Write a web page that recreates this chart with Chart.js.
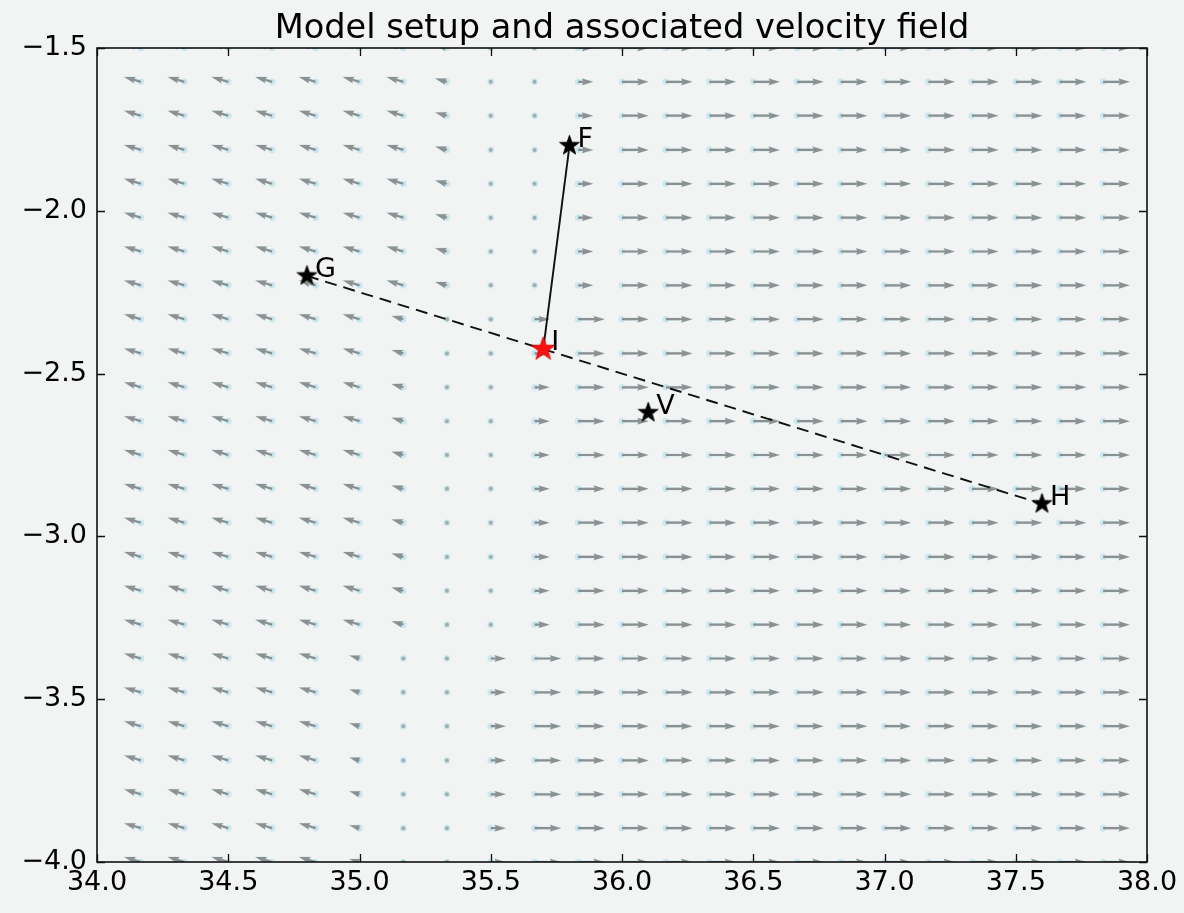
<!DOCTYPE html>
<html>
<head>
<meta charset="utf-8">
<script src="https://cdn.jsdelivr.net/npm/chart.js@4"></script>
<style>
html,body{margin:0;padding:0;background:#f1f4f2;}
#wrap{width:1184px;height:913px;}
</style>
</head>
<body>
<div id="wrap"><canvas id="c" width="1184" height="913"></canvas></div>
<script>
// ---------- data ----------
const lonGrid = [34.167,34.333,34.5,34.667,34.833,35.0,35.167,35.333,35.5,35.667,35.833,36.0,36.167,36.333,36.5,36.667,36.833,37.0,37.167,37.333,37.5,37.667,37.833];
const latGrid = [-1.5,-1.604,-1.708,-1.813,-1.917,-2.021,-2.125,-2.229,-2.333,-2.438,-2.542,-2.646,-2.75,-2.854,-2.958,-3.063,-3.167,-3.271,-3.375,-3.479,-3.583,-3.688,-3.792,-3.896,-4.0];

// east (u) and north (v) velocity per column, for three latitude bands
const uBandA = [-5,-5,-5,-5,-5,-5,-5,-3.5,0,0,4.5,8,8,8,8,8,8,8,8,8,8,8,8];
const vBandA = [1.5,1.5,1.5,1.5,1.5,1.5,1.5,1,0,0,0,0,0,0,0,0,0,0,0,0,0,0,0];
const uBandB = [-5,-5,-5,-5,-5,-5,-3.5,0,0,4.5,8,8,8,8,8,8,8,8,8,8,8,8,8];
const vBandB = [1.5,1.5,1.5,1.5,1.5,1.5,1,0,0,0,0,0,0,0,0,0,0,0,0,0,0,0,0];
const uBandC = [-5,-5,-5,-5,-5,-3,0,0,4.5,8,8,8,8,8,8,8,8,8,8,8,8,8,8];
const vBandC = [1.5,1.5,1.5,1.5,1.5,0.9,0,0,0,0,0,0,0,0,0,0,0,0,0,0,0,0,0];
const rowBand = ['A','A','A','A','A','A','A','A','B','B','B','B','B','B','B','B','B','B','C','C','C','C','C','C','C'];

const xTicks = [34.0,34.5,35.0,35.5,36.0,36.5,37.0,37.5,38.0];
const yTicks = [-1.5,-2.0,-2.5,-3.0,-3.5,-4.0];

const siteNames = ['F','G','I','V','H'];
const siteLon   = [35.8,34.8,35.7,36.1,37.6];
const siteLat   = [-1.8,-2.2,-2.425,-2.62,-2.9];
const solidLine  = ['F','I'];
const dashedLine = ['G','H'];
const redSite = 'I';

const titleText = 'Model setup and associated velocity field';

// ---------- build ----------
const bandU = {A:uBandA,B:uBandB,C:uBandC};
const bandV = {A:vBandA,B:vBandB,C:vBandC};
const quiverData = [];
latGrid.forEach((la,r)=>{
  lonGrid.forEach((lo,k)=>{
    quiverData.push({x:lo,y:la,u:bandU[rowBand[r]][k],v:bandV[rowBand[r]][k]});
  });
});
const site = n => { const i = siteNames.indexOf(n); return {x:siteLon[i], y:siteLat[i], name:n}; };

function makeStar(R, color, edge){
  const s = Math.ceil(R*2+4);
  const c = document.createElement('canvas');
  c.width = s; c.height = s;
  const g = c.getContext('2d');
  g.beginPath();
  for(let i=0;i<10;i++){
    const a = -Math.PI/2 + i*Math.PI/5;
    const r = (i%2===0)?R:R*0.40;
    const px = s/2 + r*Math.cos(a), py = s/2 + r*Math.sin(a);
    if(i===0) g.moveTo(px,py); else g.lineTo(px,py);
  }
  g.closePath();
  g.fillStyle = color; g.fill();
  g.lineWidth = 0.8; g.strokeStyle = edge; g.stroke();
  return c;
}
const blackStar = makeStar(10.5,'#000000','#000');
const redStarImg = makeStar(12.5,'#ff1010','#d00000');

const FONT = "'DejaVu Sans', sans-serif";
const PX_PER_UNIT = 3.3;

const bgPlugin = {
  id:'bg',
  beforeDraw(chart){
    const ctx = chart.ctx;
    ctx.save();
    ctx.fillStyle = '#f1f4f2';
    ctx.fillRect(0,0,chart.width,chart.height);
    ctx.restore();
  }
};

const quiverPlugin = {
  id:'quiver',
  beforeDatasetsDraw(chart){
    const ctx = chart.ctx, ca = chart.chartArea;
    const meta = chart.getDatasetMeta(0);
    ctx.save();
    ctx.beginPath(); ctx.rect(ca.left, ca.top, ca.right-ca.left, ca.bottom-ca.top); ctx.clip();
    const pts = meta.data.map((el,i)=>({x:el.x,y:el.y,d:quiverData[i]}));
    ctx.fillStyle = 'rgba(196,228,238,0.85)';
    pts.forEach(p=>{ ctx.beginPath(); ctx.arc(p.x,p.y,3.3,0,Math.PI*2); ctx.fill(); });
    pts.forEach(p=>{
      const dx = p.d.u*PX_PER_UNIT, dy = -p.d.v*PX_PER_UNIT;
      const L = Math.hypot(dx,dy);
      if(L < 1){
        ctx.fillStyle = 'rgba(150,160,160,0.8)';
        ctx.beginPath(); ctx.arc(p.x,p.y,2,0,Math.PI*2); ctx.fill();
        return;
      }
      const w = 2.2, hl = 5*w, hal = 4.5*w, hw = 1.5*w;
      const f = Math.min(1, L/hl);
      const sw = w/2*f;
      ctx.save();
      ctx.translate(p.x,p.y);
      ctx.rotate(Math.atan2(dy,dx));
      ctx.beginPath();
      ctx.moveTo(0,-sw);
      ctx.lineTo(L-hal*f,-sw);
      ctx.lineTo(L-hl*f,-hw*f);
      ctx.lineTo(L,0);
      ctx.lineTo(L-hl*f,hw*f);
      ctx.lineTo(L-hal*f,sw);
      ctx.lineTo(0,sw);
      ctx.closePath();
      ctx.strokeStyle = 'rgba(196,228,238,0.7)';
      ctx.lineWidth = 1;
      ctx.stroke();
      ctx.fillStyle = 'rgba(128,130,130,0.88)';
      ctx.fill();
      ctx.restore();
    });
    ctx.restore();
  }
};

const framePlugin = {
  id:'frame',
  afterDatasetsDraw(chart){
    const ctx = chart.ctx, ca = chart.chartArea;
    const xs = chart.scales.x, ys = chart.scales.y;
    ctx.save();
    // title centred on the plot area
    ctx.font = '33.6px ' + FONT;
    ctx.fillStyle = '#000';
    ctx.textAlign = 'center';
    ctx.textBaseline = 'alphabetic';
    ctx.fillText(titleText, (ca.left+ca.right)/2, 38);
    // site labels
    ctx.font = '27px ' + FONT;
    ctx.textAlign = 'left';
    siteNames.forEach((n,i)=>{
      const px = xs.getPixelForValue(siteLon[i]);
      const py = ys.getPixelForValue(siteLat[i]);
      ctx.fillText(n, px+8, py+1);
    });
    // frame
    ctx.strokeStyle = '#111';
    ctx.lineWidth = 1.6;
    ctx.strokeRect(ca.left, ca.top, ca.right-ca.left, ca.bottom-ca.top);
    // inward ticks
    ctx.lineWidth = 1.3;
    ctx.beginPath();
    xTicks.forEach(v=>{
      const px = Math.round(xs.getPixelForValue(v))+0.5;
      ctx.moveTo(px,ca.bottom); ctx.lineTo(px,ca.bottom-8);
      ctx.moveTo(px,ca.top); ctx.lineTo(px,ca.top+8);
    });
    yTicks.forEach(v=>{
      const py = Math.round(ys.getPixelForValue(v))+0.5;
      ctx.moveTo(ca.left,py); ctx.lineTo(ca.left+8,py);
      ctx.moveTo(ca.right,py); ctx.lineTo(ca.right-8,py);
    });
    ctx.stroke();
    ctx.restore();
  }
};

Chart.defaults.font.family = FONT;

new Chart(document.getElementById('c'), {
  type:'scatter',
  data:{
    datasets:[
      {label:'velocity', data:quiverData, pointRadius:0, showLine:false, order:10},
      {label:'profile GH', data:dashedLine.map(site), showLine:true, borderColor:'#111', borderWidth:1.9, borderDash:[12,7], pointRadius:0, order:3},
      {label:'profile FI', data:solidLine.map(site), showLine:true, borderColor:'#111', borderWidth:1.9, pointRadius:0, order:2},
      {label:'sites', data:siteNames.filter(n=>n!==redSite).map(site), pointStyle:blackStar, pointRadius:11, order:1},
      {label:'site I', data:[site(redSite)], pointStyle:redStarImg, pointRadius:13, order:0}
    ]
  },
  options:{
    responsive:false,
    animation:false,
    devicePixelRatio:1,
    events:[],
    layout:{padding:{left:0,right:37,top:48,bottom:0}},
    plugins:{
      legend:{display:false},
      tooltip:{enabled:false},
      title:{display:false}
    },
    scales:{
      x:{
        type:'linear', min:34, max:38,
        grid:{display:false, drawTicks:false},
        border:{display:false},
        afterBuildTicks(s){ s.ticks = xTicks.map(v=>({value:v})); },
        afterFit(s){ s.height = 51; },
        ticks:{color:'#000', font:{family:FONT,size:27}, padding:5, maxRotation:0, autoSkip:false,
               callback:v=>Number(v).toFixed(1)}
      },
      y:{
        type:'linear', min:-4, max:-1.5,
        grid:{display:false, drawTicks:false},
        border:{display:false},
        afterBuildTicks(s){ s.ticks = yTicks.map(v=>({value:v})); },
        afterFit(s){ s.width = 97; },
        ticks:{color:'#000', font:{family:FONT,size:27}, padding:10, autoSkip:false,
               callback:v=>Number(v).toFixed(1).replace('-','\u2212')}
      }
    }
  },
  plugins:[bgPlugin, quiverPlugin, framePlugin]
});
</script>
</body>
</html>
